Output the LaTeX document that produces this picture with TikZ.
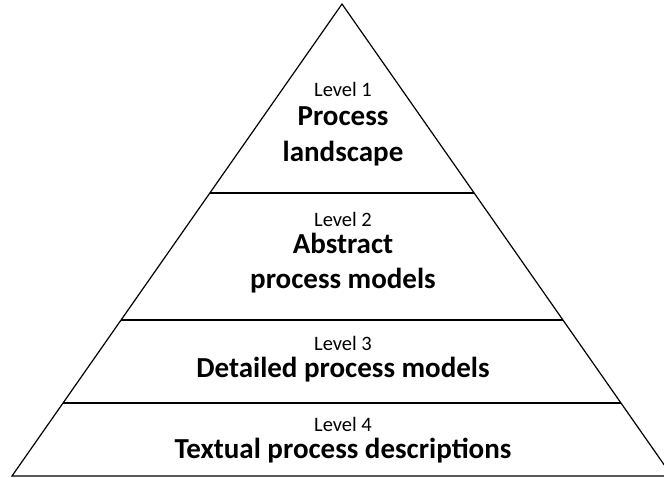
\documentclass[tikz,border=0pt]{standalone}
\usepackage{fontspec}
\setmainfont{Carlito}
\usetikzlibrary{calc}
\tikzset{
  levelname/.style={anchor=base, font=\fontsize{20.5}{24}\selectfont},
  layername/.style={anchor=base, font=\fontsize{29}{35}\selectfont\bfseries},
  edge/.style={line width=1.2pt}
}
\begin{document}
\begin{tikzpicture}[x=1pt,y=-1pt]
  \useasboundingbox (0,0) rectangle (664,477);
  \clip (0,0) rectangle (664,477);

  \coordinate (apex) at (342,4);
  \coordinate (baseleft) at (12,476);
  \coordinate (baseright) at (672,476);
  \draw[edge, line join=miter] (baseleft) -- (apex) -- (baseright) -- cycle;

  % borders between the levels
  \foreach \t in {0.4004, 0.6695, 0.8453}{
    \draw[edge] ($(apex)!\t!(baseleft)$) -- ($(apex)!\t!(baseright)$);
  }

  \node[levelname] (levelone) at (343,96) {Level 1};
  \node[layername] (landone) at (343,125) {Process};
  \node[layername] (landtwo) at (343,161) {landscape};

  \node[levelname] (leveltwo) at (343,226) {Level 2};
  \node[layername] (abstone) at (343,253) {Abstract};
  \node[layername] (absttwo) at (343,288) {process models};

  \node[levelname] (levelthree) at (343,350) {Level 3};
  \node[layername] (detailed) at (343,377) {Detailed process models};

  \node[levelname] (levelfour) at (343,431) {Level 4};
  \node[layername] (textual) at (343,458) {Textual process descriptions};
\end{tikzpicture}
\end{document}
